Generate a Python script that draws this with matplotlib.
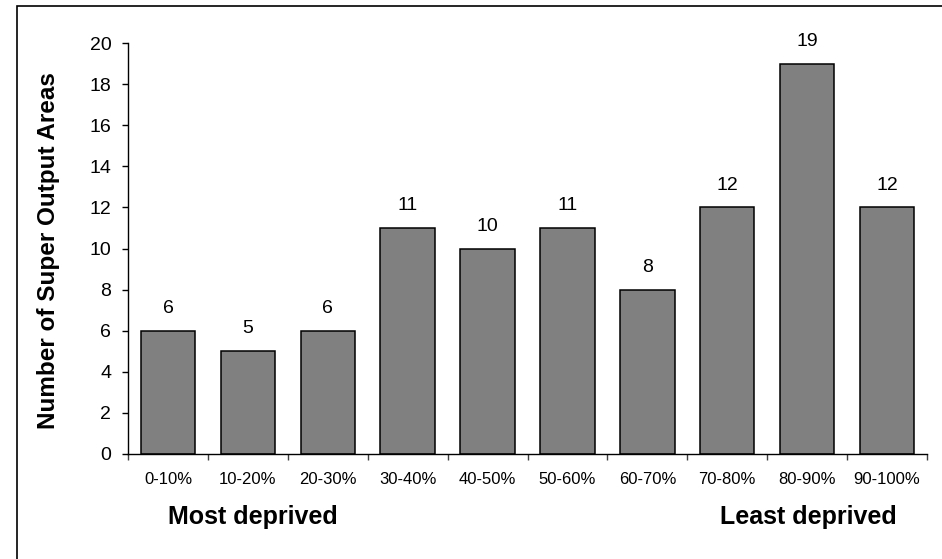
import matplotlib
matplotlib.use("Agg")
import matplotlib.pyplot as plt
from matplotlib.patches import Rectangle
import numpy as np

categories = ["0-10%", "10-20%", "20-30%", "30-40%", "40-50%",
              "50-60%", "60-70%", "70-80%", "80-90%", "90-100%"]
values = [6, 5, 6, 11, 10, 11, 8, 12, 19, 12]
yticks = [0, 2, 4, 6, 8, 10, 12, 14, 16, 18, 20]

plt.rcParams['font.family'] = ['Liberation Sans', 'DejaVu Sans']

W, H = 942, 559
fig = plt.figure(figsize=(W / 100, H / 100), dpi=100)
ax = fig.add_axes([128 / W, 1 - 454 / H, (927 - 128) / W, (454 - 43) / H])

x = np.arange(len(categories))
ax.bar(x, values, width=0.68, color="#808080", edgecolor="black", linewidth=1.1)

for xi, v in zip(x, values):
    ax.annotate(str(v), (xi, v), xytext=(0, 10), textcoords="offset points",
                ha="center", va="bottom", fontsize=14)

ax.set_xlim(-0.5, len(categories) - 0.5)
ax.set_ylim(0, 20)
ax.set_yticks(yticks)
ax.set_yticklabels([str(t) for t in yticks], fontsize=14)
ax.set_xticks(x)
ax.set_xticklabels(categories, fontsize=12)
ax.set_xticks(np.arange(-0.5, len(categories), 1.0), minor=True)
ax.tick_params(axis="x", which="major", length=0, pad=13)
ax.tick_params(axis="x", which="minor", length=4, width=1, color="#404040", direction="out")
ax.tick_params(axis="y", length=4, width=1, pad=8, direction="out")

for s in ["top", "right"]:
    ax.spines[s].set_visible(False)
for s in ["left", "bottom"]:
    ax.spines[s].set_linewidth(1.0)

ax.set_ylabel("Number of Super Output Areas", fontsize=17.5, fontweight="bold")
ax.yaxis.set_label_coords(60 / W, 1 - 251 / H, transform=fig.transFigure)

fig.text(253 / W, 1 - 517 / H, "Most deprived", ha="center", va="center",
         fontsize=18, fontweight="bold")
fig.text(808 / W, 1 - 517 / H, "Least deprived", ha="center", va="center",
         fontsize=18, fontweight="bold")

fig.patches.append(Rectangle((16.5 / W, -0.1), 1.2, 1 - 6 / H + 0.1,
                             transform=fig.transFigure, fill=False,
                             edgecolor="black", linewidth=1.2))

fig.savefig("out.png", dpi=100)
